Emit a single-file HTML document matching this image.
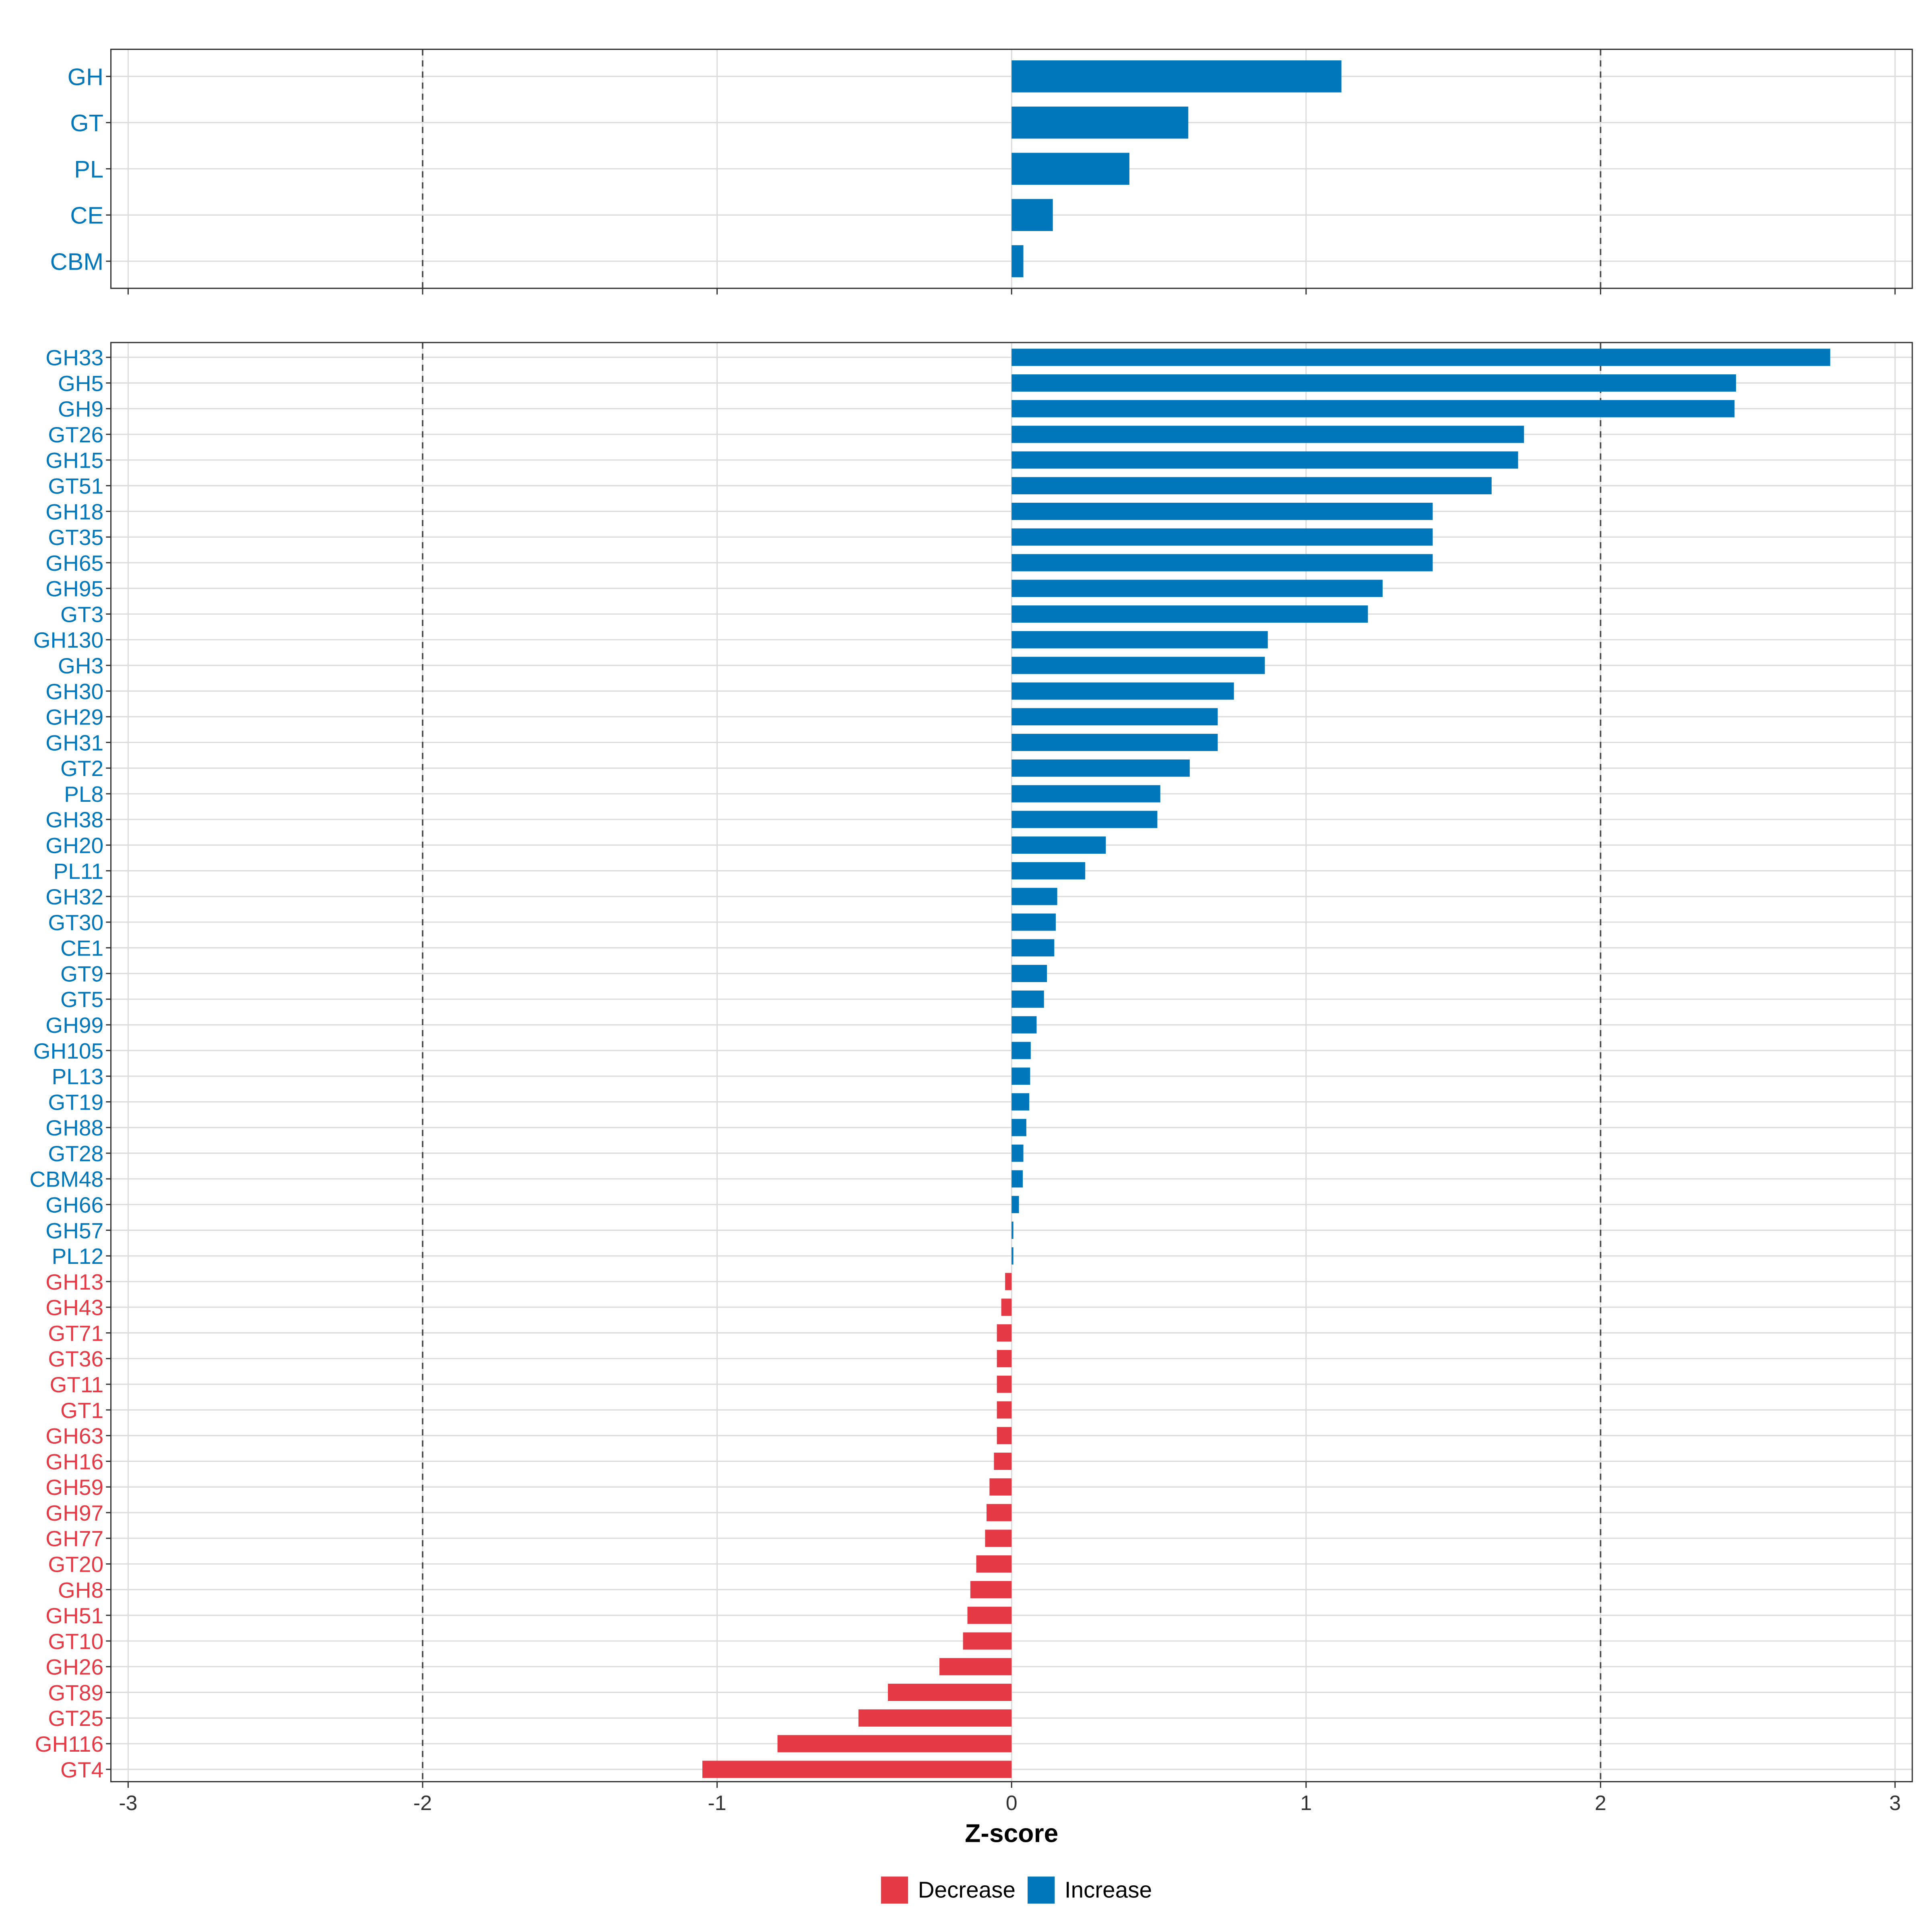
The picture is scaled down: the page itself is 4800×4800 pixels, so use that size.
<!DOCTYPE html>
<html><head><meta charset="utf-8"><style>
html,body{margin:0;padding:0;background:#fff}
svg{display:block}
text{font-family:"Liberation Sans",Arial,sans-serif}
</style></head><body>
<svg id="chart" width="4800" height="4800" viewBox="0 0 1568 1568" xmlns="http://www.w3.org/2000/svg"></svg>
<script>
const topCats=["GH","GT","PL","CE","CBM"];
const topVals=[1.12,0.60,0.40,0.14,0.04];
const cats=["GH33","GH5","GH9","GT26","GH15","GT51","GH18","GT35","GH65","GH95","GT3","GH130","GH3","GH30","GH29","GH31","GT2","PL8","GH38","GH20","PL11","GH32","GT30","CE1","GT9","GT5","GH99","GH105","PL13","GT19","GH88","GT28","CBM48","GH66","GH57","PL12","GH13","GH43","GT71","GT36","GT11","GT1","GH63","GH16","GH59","GH97","GH77","GT20","GH8","GH51","GT10","GH26","GT89","GT25","GH116","GT4"];
const vals=[2.78,2.46,2.455,1.74,1.72,1.63,1.43,1.43,1.43,1.26,1.21,0.87,0.86,0.755,0.70,0.70,0.605,0.505,0.495,0.32,0.25,0.155,0.15,0.145,0.12,0.11,0.085,0.065,0.063,0.06,0.05,0.04,0.038,0.025,0.006,0.006,-0.022,-0.035,-0.05,-0.05,-0.05,-0.05,-0.05,-0.06,-0.075,-0.085,-0.09,-0.12,-0.14,-0.15,-0.165,-0.245,-0.42,-0.52,-0.795,-1.05];
const xTicks=[-3,-2,-1,0,1,2,3];
const dashAt=[-2,2];
const BLUE="#0077BB",RED="#E63946";
const svg=document.getElementById('chart');
const NS="http://www.w3.org/2000/svg";
function el(t,a,p){const e=document.createElementNS(NS,t);for(const k in a)e.setAttribute(k,a[k]);(p||svg).appendChild(e);return e;}
const X=v=>821+239*v;
const L=90,R=1552;
function panel(name,top,bottom,cs,vs,y0,step,bh,fs){
  const g=el('g',{});
  
  
  for(const t of xTicks){const l=el('line',{x1:X(t),x2:X(t),y1:top,y2:bottom,stroke:'#dcdcdc','stroke-width':1},g);
    }
  cs.forEach((c,i)=>{const y=y0+i*step;
    const l=el('line',{x1:L,x2:R,y1:y,y2:y,stroke:'#dcdcdc','stroke-width':1},g);
    });
  for(const d of dashAt){const l=el('line',{x1:X(d),x2:X(d),y1:top,y2:bottom,stroke:'#444','stroke-width':1.2,'stroke-dasharray':'5,4'},g);
    }
  cs.forEach((c,i)=>{const y=y0+i*step,v=vs[i],col=v>=0?BLUE:RED;
    const r=el('rect',{x:Math.min(X(0),X(v)),y:y-bh/2,width:Math.max(Math.abs(X(v)-X(0)),1),height:bh,fill:col},g);
    
    const t=el('text',{x:L-6,y:y+fs*0.36,'text-anchor':'end','font-size':fs,fill:col},g);
    t.textContent=c;
    const tk=el('line',{x1:L-4,x2:L,y1:y,y2:y,stroke:'#333'},g);
    });
  const b=el('rect',{x:L,y:top,width:R-L,height:bottom-top,fill:'none',stroke:'#333','stroke-width':1},g);
  
  for(const t of xTicks){const l=el('line',{x1:X(t),x2:X(t),y1:bottom,y2:bottom+5,stroke:'#333'},g);
    }
}
panel('top-panel',40,234,topCats,topVals,62,37.5,26,19.5);
panel('main-panel',278,1446,cats,vals,290,(1436-290)/55,14,18);
for(const t of xTicks){const tx=el('text',{x:X(t),y:1469,'text-anchor':'middle','font-size':17,fill:'#333'});
  tx.textContent=String(t);}
const xt=el('text',{x:821,y:1495,'text-anchor':'middle','font-size':21,'font-weight':'bold',fill:'#000'});
xt.textContent='Z-score';
const lg=el('g',{});
const r1=el('rect',{x:715,y:1523,width:22,height:22,fill:RED},lg);
const t1=el('text',{x:745,y:1540,'font-size':18.5,fill:'#000'},lg);t1.textContent='Decrease';
const r2=el('rect',{x:834,y:1523,width:22,height:22,fill:BLUE},lg);
const t2=el('text',{x:864,y:1540,'font-size':18.5,fill:'#000'},lg);t2.textContent='Increase';
</script>
</body></html>
